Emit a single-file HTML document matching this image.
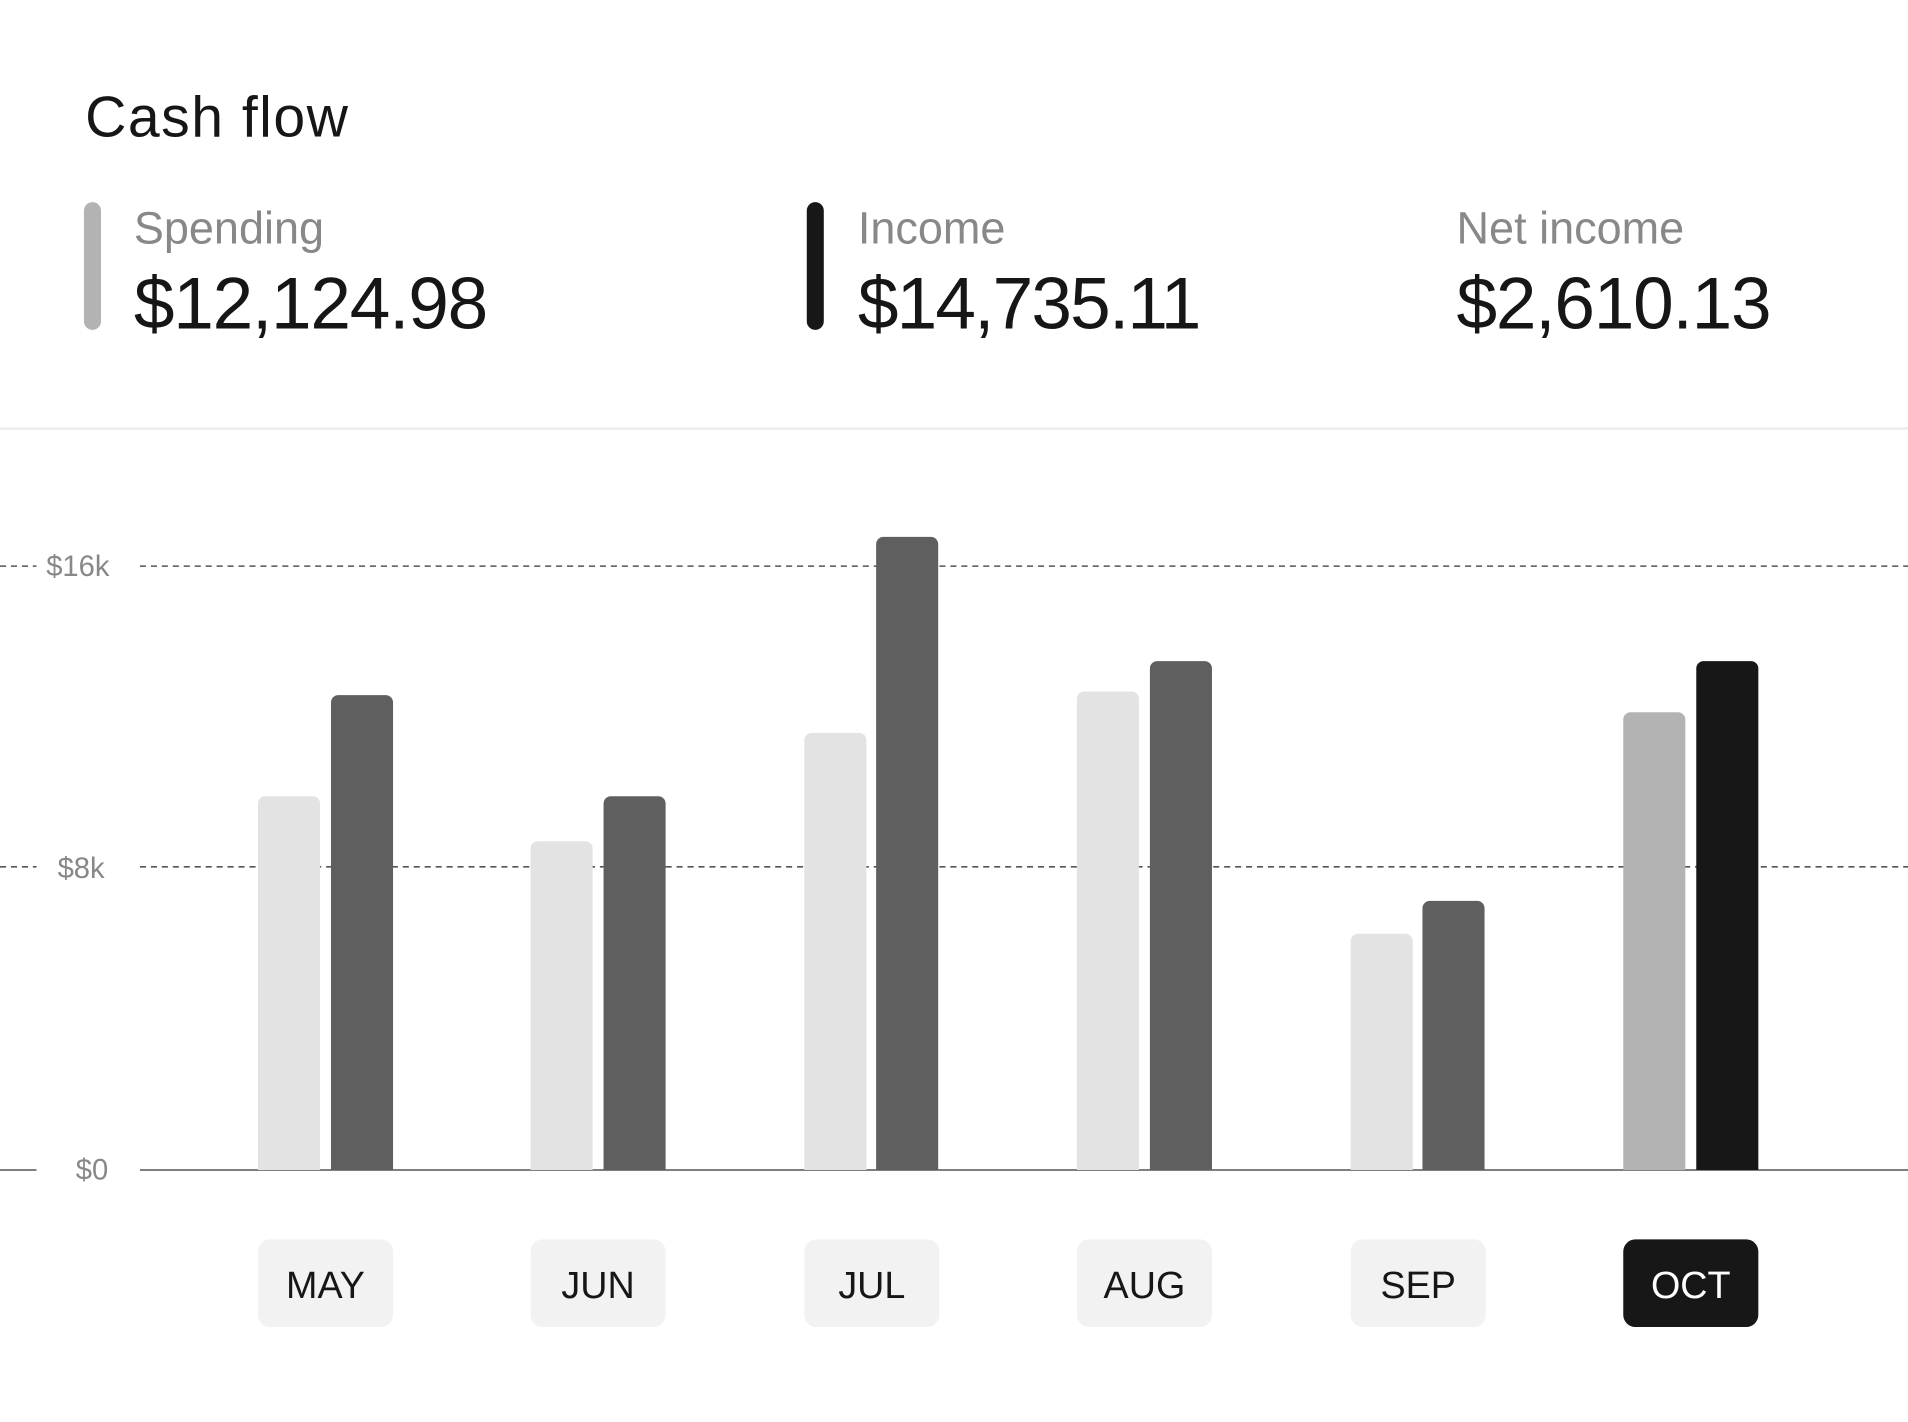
<!DOCTYPE html>
<html><head><meta charset="utf-8"><style>
html,body{margin:0;padding:0;background:#fff;}
svg{display:block;}
text{font-family:"Liberation Sans",sans-serif;}
</style></head><body>
<svg width="1908" height="1422" viewBox="0 0 1568 1168" preserveAspectRatio="none">
<rect width="1568" height="1168" fill="#fff"/>
<text x="70" y="112" font-size="47" letter-spacing="1.2" fill="#161616">Cash flow</text>
<rect x="69" y="166" width="14" height="105" rx="7" fill="#b3b3b3"/>
<text x="110" y="200" font-size="37" fill="#888">Spending</text>
<text x="110" y="270" font-size="60" letter-spacing="-1" fill="#161616">$12,124.98</text>
<rect x="663" y="166" width="14" height="105" rx="7" fill="#171717"/>
<text x="705" y="200" font-size="37" fill="#888">Income</text>
<text x="705" y="270" font-size="60" letter-spacing="-1.5" fill="#161616">$14,735.11</text>
<text x="1197" y="200" font-size="37" fill="#888">Net income</text>
<text x="1197" y="270" font-size="60" letter-spacing="-1" fill="#161616">$2,610.13</text>
<line x1="0" y1="352" x2="1568" y2="352" stroke="#ececec" stroke-width="2"/>
<g stroke="#555" stroke-width="1.3" stroke-dasharray="5,4">
<line x1="0" y1="465" x2="30" y2="465"/><line x1="115" y1="465" x2="1568" y2="465"/>
<line x1="0" y1="712" x2="30" y2="712"/><line x1="115" y1="712" x2="1568" y2="712"/>
</g>
<line x1="0" y1="961" x2="30" y2="961" stroke="#555" stroke-width="1.3"/>
<line x1="115" y1="961" x2="1568" y2="961" stroke="#555" stroke-width="1.3"/>
<g font-size="24" fill="#888" text-anchor="end">
<text x="90" y="473">$16k</text><text x="86" y="721">$8k</text><text x="89" y="969">$0</text>
</g>
<g>
<path d="M212,961V660a6,6 0 0 1 6,-6h39a6,6 0 0 1 6,6V961Z" fill="#e3e3e3"/>
<path d="M272,961V577a6,6 0 0 1 6,-6h39a6,6 0 0 1 6,6V961Z" fill="#5f5f5f"/>
<path d="M436,961V697a6,6 0 0 1 6,-6h39a6,6 0 0 1 6,6V961Z" fill="#e3e3e3"/>
<path d="M496,961V660a6,6 0 0 1 6,-6h39a6,6 0 0 1 6,6V961Z" fill="#5f5f5f"/>
<path d="M661,961V608a6,6 0 0 1 6,-6h39a6,6 0 0 1 6,6V961Z" fill="#e3e3e3"/>
<path d="M720,961V447a6,6 0 0 1 6,-6h39a6,6 0 0 1 6,6V961Z" fill="#5f5f5f"/>
<path d="M885,961V574a6,6 0 0 1 6,-6h39a6,6 0 0 1 6,6V961Z" fill="#e3e3e3"/>
<path d="M945,961V549a6,6 0 0 1 6,-6h39a6,6 0 0 1 6,6V961Z" fill="#5f5f5f"/>
<path d="M1110,961V773a6,6 0 0 1 6,-6h39a6,6 0 0 1 6,6V961Z" fill="#e3e3e3"/>
<path d="M1169,961V746a6,6 0 0 1 6,-6h39a6,6 0 0 1 6,6V961Z" fill="#5f5f5f"/>
<path d="M1334,961V591a6,6 0 0 1 6,-6h39a6,6 0 0 1 6,6V961Z" fill="#b3b3b3"/>
<path d="M1394,961V549a6,6 0 0 1 6,-6h39a6,6 0 0 1 6,6V961Z" fill="#171717"/>
</g>
<g font-size="31" text-anchor="middle">
<rect x="212" y="1018" width="111" height="72" rx="10" fill="#f2f2f2"/><text x="267.5" y="1066" fill="#161616">MAY</text>
<rect x="436" y="1018" width="111" height="72" rx="10" fill="#f2f2f2"/><text x="491.5" y="1066" fill="#161616">JUN</text>
<rect x="661" y="1018" width="111" height="72" rx="10" fill="#f2f2f2"/><text x="716.5" y="1066" fill="#161616">JUL</text>
<rect x="885" y="1018" width="111" height="72" rx="10" fill="#f2f2f2"/><text x="940.5" y="1066" fill="#161616">AUG</text>
<rect x="1110" y="1018" width="111" height="72" rx="10" fill="#f2f2f2"/><text x="1165.5" y="1066" fill="#161616">SEP</text>
<rect x="1334" y="1018" width="111" height="72" rx="10" fill="#171717"/><text x="1389.5" y="1066" fill="#fff">OCT</text>
</g>
</svg>
</body></html>
